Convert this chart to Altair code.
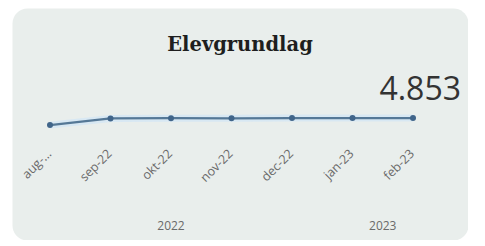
import altair as alt
import pandas as pd

months = ["aug-…", "sep-22", "okt-22", "nov-22", "dec-22", "jan-23", "feb-23"]
years = ["2022", "2022", "2022", "2022", "2022", "2023", "2023"]
values = [4780, 4850, 4852, 4851, 4853, 4853, 4853]
title_text = "Elevgrundlag"

df = pd.DataFrame({
    "idx": list(range(len(months))),
    "month": months,
    "year": years,
    "value": values,
})
last = df.tail(1).copy()
last["label"] = last["value"].map(lambda v: f"{v:,}".replace(",", "."))

W, H = 456, 232
xs = alt.Scale(domain=[0, len(months) - 1], range=[38, 401])
ys = alt.Scale(domain=[4000, 5000], range=[192, 96])

base = alt.Chart(df)

glow = base.mark_line(color="#d3e6f5", strokeWidth=7, opacity=0.8).encode(
    x=alt.X("idx:Q", scale=xs, axis=None),
    y=alt.Y("value:Q", scale=ys, axis=None),
)
line = base.mark_line(color="#557896", strokeWidth=2.2).encode(
    x=alt.X("idx:Q", scale=xs, axis=None),
    y=alt.Y("value:Q", scale=ys, axis=None),
)
pts = base.mark_circle(color="#40658a", size=36, opacity=1).encode(
    x=alt.X("idx:Q", scale=xs, axis=None),
    y=alt.Y("value:Q", scale=ys, axis=None),
)
month_lbl = base.mark_text(
    angle=315, align="right", baseline="middle", font="Open Sans",
    fontSize=12.5, color="#6a6a6a", dx=-1,
).encode(
    x=alt.X("idx:Q", scale=xs, axis=None),
    y=alt.value(143),
    text="month:N",
)
year_lbl = base.mark_text(
    align="center", baseline="middle", font="Open Sans",
    fontSize=12, color="#6a6a6a",
).encode(
    x=alt.X("mean(idx):Q", scale=xs, axis=None),
    y=alt.value(218),
    text="year:N",
)
title = alt.Chart(pd.DataFrame({"t": [title_text]})).mark_text(
    font="DejaVu Serif", fontWeight="bold", fontSize=19.5, color="#1e1e1e",
    align="center", baseline="middle",
).encode(x=alt.value(228), y=alt.value(37), text="t:N")
big = alt.Chart(last).mark_text(
    font="Open Sans", fontSize=32, color="#333333", align="right",
    baseline="alphabetic",
).encode(x=alt.value(449), y=alt.value(92), text="label:N")

chart = alt.layer(glow, line, pts, month_lbl, year_lbl, title, big).properties(
    width=W, height=H,
    padding={"left": 4, "top": 0, "right": 0, "bottom": 0},
    autosize="none",
    background="white",
).configure_view(fill="#e9eeec", stroke="transparent", cornerRadius=15)

chart.save("out.html", embed_options={"renderer": "svg", "actions": False})
